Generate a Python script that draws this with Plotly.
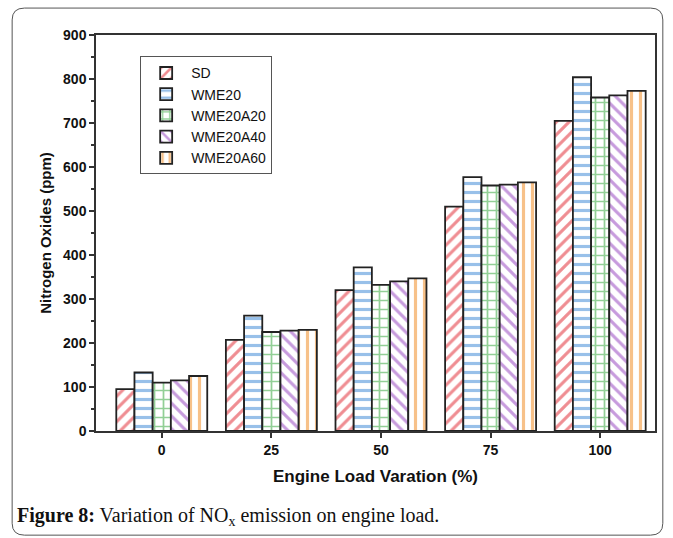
import plotly.graph_objects as go

categories = ["0", "25", "50", "75", "100"]
series_names = ["SD", "WME20", "WME20A20", "WME20A40", "WME20A60"]
sd = [95, 207, 320, 510, 705]
wme20 = [133, 262, 372, 577, 804]
wme20a20 = [110, 225, 332, 558, 758]
wme20a40 = [115, 228, 340, 560, 763]
wme20a60 = [125, 230, 347, 565, 773]
y_ticks = [0, 100, 200, 300, 400, 500, 600, 700, 800, 900]

values = [sd, wme20, wme20a20, wme20a40, wme20a60]
colors = ["#e01b25", "#3282d4", "#26a02e", "#8f38bc", "#ef8414"]
shapes_p = ["/", "-", "+", "\\", "|"]

fig = go.Figure()
for name, vals, col, sh in zip(series_names, values, colors, shapes_p):
    fig.add_trace(go.Bar(
        x=categories, y=vals, name=name,
        marker=dict(color="white",
                    line=dict(color="#222", width=1.8),
                    pattern=dict(shape=sh, fgcolor=col, bgcolor="white",
                                 size=9, solidity=0.35, fillmode="overlay")),
    ))

fam = "Liberation Sans, Arial"
fig.update_layout(
    width=673, height=538,
    margin=dict(l=96, r=18, t=35, b=107),
    paper_bgcolor="white", plot_bgcolor="white",
    barmode="group", bargap=0.17, bargroupgap=0.0,
    showlegend=True,
    legend=dict(x=0.079, y=0.946, xanchor="left", yanchor="top",
                bordercolor="#555", borderwidth=1, bgcolor="white",
                font=dict(family=fam, size=14, color="#111"),
                tracegroupgap=0, itemwidth=40),
    xaxis=dict(type="category", range=[-0.6, 4.5],
               showline=True, linecolor="#333", linewidth=1.5, mirror=True,
               ticks="outside", ticklen=5, tickcolor="#333", tickwidth=1.5,
               minor=dict(ticks="outside", ticklen=3, tickcolor="#333", dtick=0.5, showgrid=False),
               showgrid=False, tickfont=dict(family=fam, size=14, color="#111", weight="bold"),
               title=dict(text="<b>Engine Load Varation (%)</b>",
                          font=dict(family=fam, size=17, color="#111"), standoff=14)),
    yaxis=dict(range=[0, 900], tickvals=y_ticks,
               showline=True, linecolor="#333", linewidth=1.5, mirror=True,
               ticks="outside", ticklen=5, tickcolor="#333", tickwidth=1.5,
               minor=dict(ticks="outside", ticklen=3, tickcolor="#333", dtick=50, showgrid=False),
               showgrid=False, zeroline=False,
               tickfont=dict(family=fam, size=14, color="#111", weight="bold"),
               title=dict(text="<b>Nitrogen Oxides (ppm)</b>",
                          font=dict(family=fam, size=15, color="#111"), standoff=8)),
)

# rounded outer frame (paper coords)
x0, x1, y0, y1 = -0.150, 1.014, -0.263, 1.068
rx, ry = 0.022, 0.03
path = (f"M {x0+rx},{y1} L {x1-rx},{y1} Q {x1},{y1} {x1},{y1-ry} "
        f"L {x1},{y0+ry} Q {x1},{y0} {x1-rx},{y0} L {x0+rx},{y0} "
        f"Q {x0},{y0} {x0},{y0+ry} L {x0},{y1-ry} Q {x0},{y1} {x0+rx},{y1} Z")
fig.add_shape(type="path", path=path, xref="paper", yref="paper",
              line=dict(color="#555", width=1), layer="below")

fig.add_annotation(
    text="<b>Figure 8:</b> Variation of NO<sub>x</sub> emission on engine load.",
    xref="paper", yref="paper", x=-0.145, y=-0.215, xanchor="left", yanchor="middle",
    showarrow=False, font=dict(family="Liberation Serif, Times New Roman", size=20, color="#111"))

fig.write_html("out.html")
